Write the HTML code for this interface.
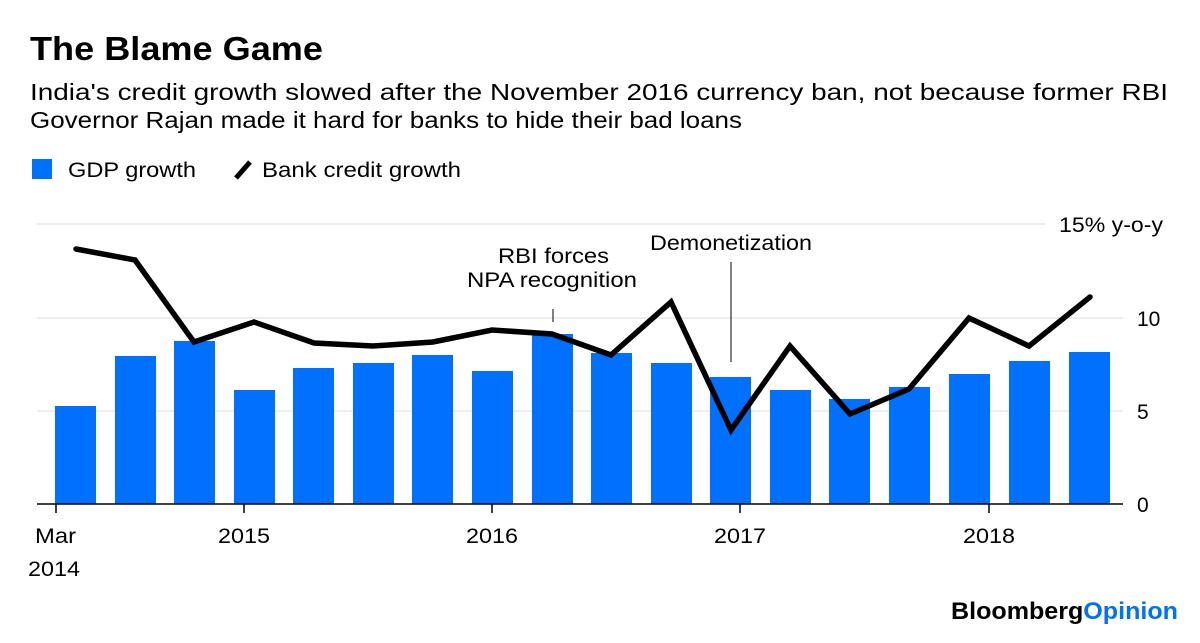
<!DOCTYPE html>
<html><head><style>
body{margin:0;background:#fff;}
svg text{font-family:"Liberation Sans",sans-serif;}
</style></head><body>
<svg width="1200" height="638" viewBox="0 0 1200 638" xmlns="http://www.w3.org/2000/svg">
<rect width="1200" height="638" fill="#fff"/>
<text x="30" y="60" font-size="33" font-weight="bold" fill="#000" textLength="293" lengthAdjust="spacingAndGlyphs">The Blame Game</text>
<text x="30" y="100" font-size="23" fill="#000" textLength="1138" lengthAdjust="spacingAndGlyphs">India's credit growth slowed after the November 2016 currency ban, not because former RBI</text>
<text x="30" y="128" font-size="23" fill="#000" textLength="712" lengthAdjust="spacingAndGlyphs">Governor Rajan made it hard for banks to hide their bad loans</text>
<rect x="32" y="159" width="20" height="20" fill="#0070ff"/>
<text x="68" y="177" font-size="21" textLength="128" lengthAdjust="spacingAndGlyphs">GDP growth</text>
<line x1="236" y1="178" x2="250" y2="162" stroke="#000" stroke-width="5"/>
<text x="262" y="177" font-size="21" textLength="199" lengthAdjust="spacingAndGlyphs">Bank credit growth</text>
<line x1="37" y1="224" x2="1045" y2="224" stroke="#eee" stroke-width="2"/>
<line x1="37" y1="318" x2="1123" y2="318" stroke="#eee" stroke-width="2"/>
<line x1="37" y1="411" x2="1123" y2="411" stroke="#eee" stroke-width="2"/>
<g fill="#0070ff">
<rect x="55" y="406" width="41" height="98"/>
<rect x="115" y="356" width="41" height="148"/>
<rect x="174" y="341" width="41" height="163"/>
<rect x="234" y="390" width="41" height="114"/>
<rect x="293" y="368" width="41" height="136"/>
<rect x="353" y="363" width="41" height="141"/>
<rect x="412" y="355" width="41" height="149"/>
<rect x="472" y="371" width="41" height="133"/>
<rect x="532" y="334" width="41" height="170"/>
<rect x="591" y="353" width="41" height="151"/>
<rect x="651" y="363" width="41" height="141"/>
<rect x="710" y="377" width="41" height="127"/>
<rect x="770" y="390" width="41" height="114"/>
<rect x="829" y="399" width="41" height="105"/>
<rect x="889" y="387" width="41" height="117"/>
<rect x="949" y="374" width="41" height="130"/>
<rect x="1009" y="361" width="41" height="143"/>
<rect x="1069" y="352" width="41" height="152"/>
</g>
<line x1="37" y1="504" x2="1123" y2="504" stroke="#000" stroke-width="1.5"/>
<g stroke="#000" stroke-width="1.5">
<line x1="56" y1="504" x2="56" y2="513"/>
<line x1="244" y1="504" x2="244" y2="513"/>
<line x1="492" y1="504" x2="492" y2="513"/>
<line x1="740" y1="504" x2="740" y2="513"/>
<line x1="989" y1="504" x2="989" y2="513"/>
<line x1="553" y1="309" x2="553" y2="322" stroke-width="1"/>
<line x1="731" y1="262" x2="731" y2="362" stroke-width="1"/>
</g>
<polyline fill="none" stroke="#000" stroke-width="5.5" stroke-linejoin="miter" stroke-linecap="round"
points="76,249 135,260 194,342 254,322 314,343 373,346 433,342 492,330 552,334 611,355 671,302 731,430 790,346 850,414 909,389 969,318 1029,346 1090,297"/>
<g font-size="21" fill="#000">
<text x="498" y="263" textLength="111" lengthAdjust="spacingAndGlyphs">RBI forces</text>
<text x="467" y="287" textLength="170" lengthAdjust="spacingAndGlyphs">NPA recognition</text>
<text x="650" y="250" textLength="162" lengthAdjust="spacingAndGlyphs">Demonetization</text>
<text x="1059" y="232" textLength="104" lengthAdjust="spacingAndGlyphs">15% y-o-y</text>
<text x="1137" y="326">10</text>
<text x="1137" y="419">5</text>
<text x="1137" y="512">0</text>
<text x="35" y="543" textLength="41" lengthAdjust="spacingAndGlyphs">Mar</text>
<text x="28" y="576" textLength="52" lengthAdjust="spacingAndGlyphs">2014</text>
<text x="218" y="543" textLength="52" lengthAdjust="spacingAndGlyphs">2015</text>
<text x="466" y="543" textLength="52" lengthAdjust="spacingAndGlyphs">2016</text>
<text x="714" y="543" textLength="52" lengthAdjust="spacingAndGlyphs">2017</text>
<text x="963" y="543" textLength="52" lengthAdjust="spacingAndGlyphs">2018</text>
</g>
<text x="951" y="619" font-size="24" font-weight="bold" fill="#000" textLength="227" lengthAdjust="spacingAndGlyphs">Bloomberg<tspan fill="#0070ff">Opinion</tspan></text>
</svg>
</body></html>
